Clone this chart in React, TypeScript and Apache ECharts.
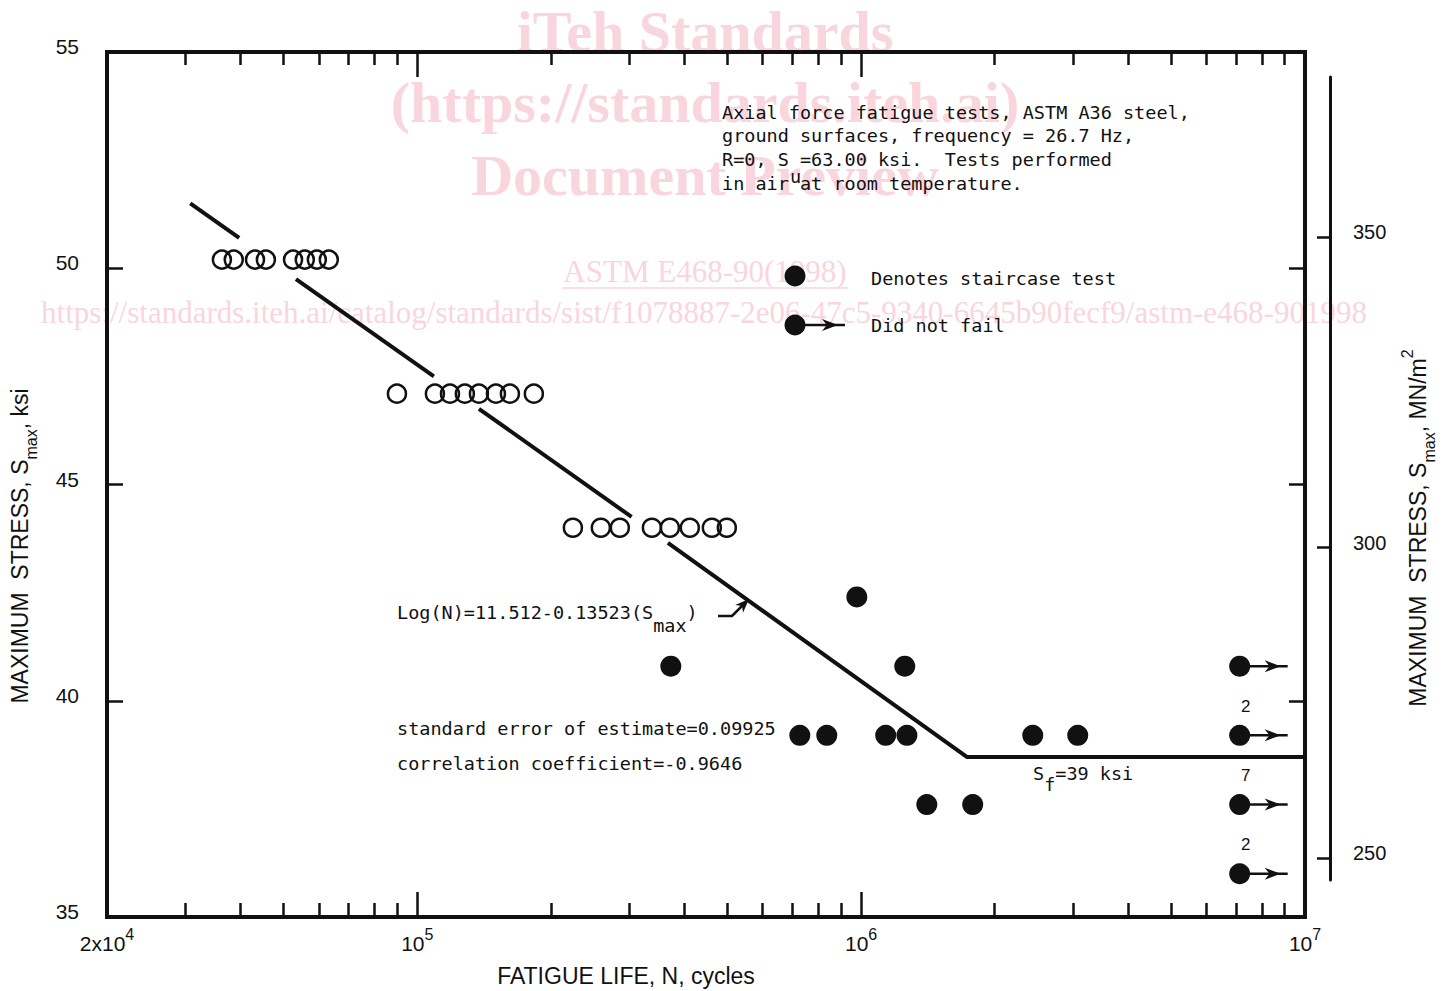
import React, { useEffect, useRef } from 'react';
import * as echarts from 'echarts';

// ---------------- data ----------------
const openStressLevels = [50.2, 47.1, 44.0];
const openCyclesAt50 = [36300, 38600, 43100, 45600, 52500, 55800, 59400, 63200];
const openCyclesAt47 = [90000, 109600, 118500, 128000, 137700, 150400, 161700, 183100];
const openCyclesAt44 = [224200, 259200, 286000, 337800, 370800, 411200, 461000, 498200];

const staircaseCycles = [372600, 727600, 836800, 978000, 1136000, 1268000, 1254000, 1406000, 1784000, 2436000, 3076000];
const staircaseStress = [40.8, 39.2, 39.2, 42.4, 39.2, 39.2, 40.8, 37.6, 37.6, 39.2, 39.2];

const runoutCycles = [7126000, 7126000, 7126000, 7126000];
const runoutStress = [40.8, 39.2, 37.6, 36.0];
const runoutCounts = [1, 2, 7, 2];

// fitted S-N line, drawn in broken pieces (gaps where symbols / text sit)
const fitSegments = [
  [[30800, 51.5], [39700, 50.7]],
  [[53300, 49.75], [109000, 47.5]],
  [[137700, 46.75], [304000, 44.25]],
  [[367000, 43.65], [1730000, 38.7], [10000000, 38.7]],
];

const xLabelValues = [20000, 100000, 1000000, 10000000];
const xMajorTicks = [100000, 1000000];
const xMinorTicks = [
  30000, 40000, 50000, 60000, 70000, 80000, 90000,
  200000, 300000, 400000, 500000, 600000, 700000, 800000, 900000,
  2000000, 3000000, 4000000, 5000000, 6000000, 7000000, 8000000, 9000000,
];
const ksiLabels = [35, 40, 45, 50, 55];
const ksiTicks = [40, 45, 50];
const mpaTicks = [250, 300, 350];

// ---------------- styles ----------------
const INK = '#111111';
const SANS = 'Liberation Sans';
const MONO = 'DejaVu Sans Mono';
const WM = '#f9d6dd';
const MONO_SIZE = 18.5;

const xLabelFmt = (v: number) => {
  const e = Math.floor(Math.log10(v) + 1e-9);
  const m = Math.round(v / Math.pow(10, e));
  return m === 1 ? `{b|10}{sup|${e}}` : `{b|${m}x10}{sup|${e}}`;
};

const tickLine = { color: INK, width: 2.5 };
const frameLine = { color: INK, width: 4, cap: 'square' as const };

function logX(position: 'top' | 'bottom', ticks: number[], len: number, showLine: boolean, labels: boolean) {
  return {
    type: 'log' as const,
    logBase: 10,
    min: 20000,
    max: 10000000,
    gridIndex: 0,
    position,
    axisLine: { show: showLine, onZero: false, lineStyle: frameLine },
    axisTick: { show: true, inside: true, length: len, customValues: ticks, lineStyle: tickLine },
    axisLabel: labels
      ? {
          show: true,
          customValues: xLabelValues,
          formatter: xLabelFmt,
          margin: 9,
          rich: {
            b: { fontFamily: SANS, fontSize: 21, color: INK },
            sup: { fontFamily: SANS, fontSize: 16, color: INK, padding: [0, 0, 18, 0] },
          },
        }
      : { show: false },
    splitLine: { show: false },
    minorTick: { show: false },
  };
}

function monoText(x: number, y: number, text: string, extra: any = {}) {
  return {
    type: 'text',
    x,
    y,
    silent: true,
    z: 20,
    style: {
      text,
      fill: INK,
      fontFamily: MONO,
      fontSize: MONO_SIZE,
      align: 'left',
      verticalAlign: 'middle',
      ...extra,
    },
  };
}

function arrowHead(tipX: number, tipY: number, dx: number, dy: number, len: number, half: number) {
  const bx = tipX - dx * len;
  const by = tipY - dy * len;
  const px = -dy;
  const py = dx;
  const nx = tipX - dx * len * 0.7;
  const ny = tipY - dy * len * 0.7;
  return [
    [tipX, tipY],
    [bx + px * half, by + py * half],
    [nx, ny],
    [bx - px * half, by - py * half],
  ];
}

const WM_BIG = 'bold 58px "Liberation Serif"';
const WM_SMALL = '31px "Liberation Serif"';
const watermark = [
  { type: 'text', x: 705, y: 31, z: 0, silent: true, style: { text: 'iTeh Standards', fill: WM, font: WM_BIG, align: 'center', verticalAlign: 'middle' } },
  { type: 'text', x: 705, y: 102, z: 0, silent: true, style: { text: '(https://standards.iteh.ai)', fill: WM, font: WM_BIG, align: 'center', verticalAlign: 'middle' } },
  { type: 'text', x: 705, y: 175, z: 0, silent: true, style: { text: 'Document Preview', fill: WM, font: WM_BIG, align: 'center', verticalAlign: 'middle' } },
  { type: 'text', x: 705, y: 271, z: 0, silent: true, style: { text: 'ASTM E468-90(1998)', fill: WM, font: WM_SMALL, align: 'center', verticalAlign: 'middle' } },
  { type: 'line', z: 0, silent: true, shape: { x1: 562, y1: 288, x2: 848, y2: 288 }, style: { stroke: WM, lineWidth: 1.5 } },
  { type: 'text', x: 704, y: 312, z: 0, silent: true, style: { text: 'https://standards.iteh.ai/catalog/standards/sist/f1078887-2e06-47c5-9340-6645b90fecf9/astm-e468-901998', fill: WM, font: WM_SMALL, align: 'center', verticalAlign: 'middle' } },
];

const legendAndNotes = [
  // legend
  { type: 'circle', z: 20, silent: true, shape: { cx: 795, cy: 276, r: 10.5 }, style: { fill: INK } },
  monoText(871, 278, 'Denotes staircase test'),
  { type: 'line', z: 20, silent: true, shape: { x1: 795, y1: 325, x2: 845, y2: 325 }, style: { stroke: INK, lineWidth: 2.5 } },
  { type: 'polygon', z: 20, silent: true, shape: { points: arrowHead(838, 325, 1, 0, 16, 6) }, style: { fill: INK } },
  { type: 'circle', z: 20, silent: true, shape: { cx: 795, cy: 325, r: 10.5 }, style: { fill: INK } },
  monoText(871, 325, 'Did not fail'),
  // description block
  monoText(722, 112, 'Axial force fatigue tests, ASTM A36 steel,'),
  monoText(722, 135, 'ground surfaces, frequency = 26.7 Hz,'),
  monoText(722, 159, 'R=0, S =63.00 ksi.  Tests performed'),
  monoText(790, 176, 'u'),
  monoText(722, 183, 'in air at room temperature.'),
  // regression equation
  {
    type: 'text', x: 397, y: 612, z: 20, silent: true,
    style: {
      text: '{a|Log(N)=11.512-0.13523(S}{s|max}{a|)}',
      align: 'left', verticalAlign: 'middle',
      rich: {
        a: { fill: INK, fontFamily: MONO, fontSize: MONO_SIZE },
        s: { fill: INK, fontFamily: MONO, fontSize: MONO_SIZE, padding: [26, 0, 0, 0] },
      },
    },
  },
  { type: 'polyline', z: 20, silent: true, shape: { points: [[718, 616], [732, 616], [743, 605]] }, style: { stroke: INK, lineWidth: 2.5, fill: null } },
  { type: 'polygon', z: 20, silent: true, shape: { points: arrowHead(749, 599, 0.7071, -0.7071, 14, 5.5) }, style: { fill: INK } },
  monoText(397, 728, 'standard error of estimate=0.09925'),
  monoText(397, 763, 'correlation coefficient=-0.9646'),
  {
    type: 'text', x: 1033, y: 773, z: 20, silent: true,
    style: {
      text: '{a|S}{s|f}{a|=39 ksi}',
      align: 'left', verticalAlign: 'middle',
      rich: {
        a: { fill: INK, fontFamily: MONO, fontSize: MONO_SIZE },
        s: { fill: INK, fontFamily: MONO, fontSize: MONO_SIZE, padding: [22, 0, 0, 0] },
      },
    },
  },
  // axis titles
  {
    type: 'text', x: 626, y: 976, z: 20, silent: true,
    style: { text: 'FATIGUE LIFE, N, cycles', fill: INK, fontFamily: SANS, fontSize: 23, align: 'center', verticalAlign: 'middle' },
  },
  {
    type: 'text', x: 20, y: 546, rotation: Math.PI / 2, z: 20, silent: true,
    style: {
      text: '{a|MAXIMUM  STRESS, S}{s|max}{a|, ksi}',
      align: 'center', verticalAlign: 'middle',
      rich: {
        a: { fill: INK, fontFamily: SANS, fontSize: 23 },
        s: { fill: INK, fontFamily: SANS, fontSize: 16, padding: [22, 0, 0, 0] },
      },
    },
  },
  {
    type: 'text', x: 1418, y: 528, rotation: Math.PI / 2, z: 20, silent: true,
    style: {
      text: '{a|MAXIMUM  STRESS, S}{s|max}{a|, MN/m}{p|2}',
      align: 'center', verticalAlign: 'middle',
      rich: {
        a: { fill: INK, fontFamily: SANS, fontSize: 23 },
        s: { fill: INK, fontFamily: SANS, fontSize: 16, padding: [22, 0, 0, 0] },
        p: { fill: INK, fontFamily: SANS, fontSize: 16, padding: [0, 0, 22, 0] },
      },
    },
  },
];

function buildOption() {
  const openData = [
    ...openCyclesAt50.map((n) => [n, openStressLevels[0]]),
    ...openCyclesAt47.map((n) => [n, openStressLevels[1]]),
    ...openCyclesAt44.map((n) => [n, openStressLevels[2]]),
  ];
  const staircaseData = staircaseCycles.map((n, i) => [n, staircaseStress[i]]);
  const runoutData = runoutCycles.map((n, i) => [n, runoutStress[i], runoutCounts[i]]);

  const fitSeries = fitSegments.map((seg) => ({
    type: 'line',
    xAxisIndex: 0,
    yAxisIndex: 0,
    data: seg,
    symbol: 'none',
    showSymbol: false,
    silent: true,
    z: 3,
    lineStyle: { color: INK, width: 4, cap: 'butt', opacity: 1 },
  }));

  return {
    animation: false,
    backgroundColor: '#ffffff',
    grid: [
      { left: 107, top: 52, width: 1198, height: 865, containLabel: false, outerBoundsMode: 'none' },
      { left: 1300, top: 77, width: 30, height: 803, containLabel: false, outerBoundsMode: 'none' },
    ],
    xAxis: [
      logX('bottom', xMinorTicks, 14, true, true),
      logX('bottom', xMajorTicks, 25, false, false),
      logX('top', xMinorTicks, 13, true, false),
      logX('top', xMajorTicks, 25, false, false),
      { type: 'value', gridIndex: 1, show: false, min: 0, max: 1 },
    ],
    yAxis: [
      {
        type: 'value',
        gridIndex: 0,
        position: 'left',
        min: 35,
        max: 55,
        interval: 5,
        axisLine: { show: true, onZero: false, lineStyle: frameLine },
        axisTick: { show: true, inside: true, length: 16, customValues: ksiTicks, lineStyle: tickLine },
        axisLabel: {
          show: true,
          customValues: ksiLabels,
          margin: 28,
          fontFamily: SANS,
          fontSize: 21,
          color: INK,
          verticalAlign: 'bottom',
          lineHeight: 11,
        },
        splitLine: { show: false },
      },
      {
        type: 'value',
        gridIndex: 0,
        position: 'right',
        min: 35,
        max: 55,
        interval: 5,
        axisLine: { show: true, onZero: false, lineStyle: frameLine },
        axisTick: { show: true, inside: true, length: 16, customValues: ksiTicks, lineStyle: tickLine },
        axisLabel: { show: false },
        splitLine: { show: false },
      },
      {
        type: 'value',
        gridIndex: 1,
        position: 'right',
        min: 246.5,
        max: 375.8,
        axisLine: { show: true, onZero: false, lineStyle: { color: INK, width: 3 } },
        axisTick: { show: true, inside: true, length: 13, customValues: mpaTicks, lineStyle: tickLine },
        axisLabel: {
          show: true,
          customValues: mpaTicks,
          margin: 23,
          fontFamily: SANS,
          fontSize: 20,
          color: INK,
          verticalAlign: 'bottom',
          lineHeight: 10,
        },
        splitLine: { show: false },
      },
    ],
    graphic: { elements: [...watermark, ...legendAndNotes] },
    series: [
      ...fitSeries,
      {
        type: 'scatter',
        name: 'tests',
        xAxisIndex: 0,
        yAxisIndex: 0,
        data: openData,
        symbol: 'circle',
        symbolSize: 18,
        z: 4,
        itemStyle: { color: 'rgba(0,0,0,0)', borderColor: INK, borderWidth: 2.5, opacity: 1 },
      },
      {
        type: 'scatter',
        name: 'Denotes staircase test',
        xAxisIndex: 0,
        yAxisIndex: 0,
        data: staircaseData,
        symbol: 'circle',
        symbolSize: 21,
        z: 4,
        itemStyle: { color: INK, opacity: 1 },
      },
      {
        type: 'custom',
        name: 'Did not fail',
        xAxisIndex: 0,
        yAxisIndex: 0,
        data: runoutData,
        encode: { x: 0, y: 1 },
        z: 5,
        renderItem: (params: any, api: any) => {
          const p = api.coord([api.value(0), api.value(1)]);
          const cx = p[0];
          const cy = p[1];
          const count = api.value(2);
          const children: any[] = [
            { type: 'line', shape: { x1: cx, y1: cy, x2: cx + 48, y2: cy }, style: { stroke: INK, lineWidth: 2.5 } },
            { type: 'polygon', shape: { points: arrowHead(cx + 41, cy, 1, 0, 16, 6) }, style: { fill: INK } },
            { type: 'circle', shape: { cx, cy, r: 10.5 }, style: { fill: INK } },
          ];
          if (count > 1) {
            children.push({
              type: 'text',
              x: cx + 6,
              y: cy - 29,
              style: { text: String(count), fill: INK, fontFamily: SANS, fontSize: 17, align: 'center', verticalAlign: 'middle' },
            });
          }
          return { type: 'group', children };
        },
      },
    ],
  };
}

export default function App() {
  const ref = useRef<HTMLDivElement>(null);
  useEffect(() => {
    if (!ref.current) return;
    const chart = echarts.init(ref.current, null, { renderer: 'svg' });
    chart.setOption(buildOption() as any);
    return () => chart.dispose();
  }, []);
  return (
    <div
      ref={ref}
      style={{ position: 'fixed', left: 0, top: 0, width: 1453, height: 991, background: '#ffffff' }}
    />
  );
}
